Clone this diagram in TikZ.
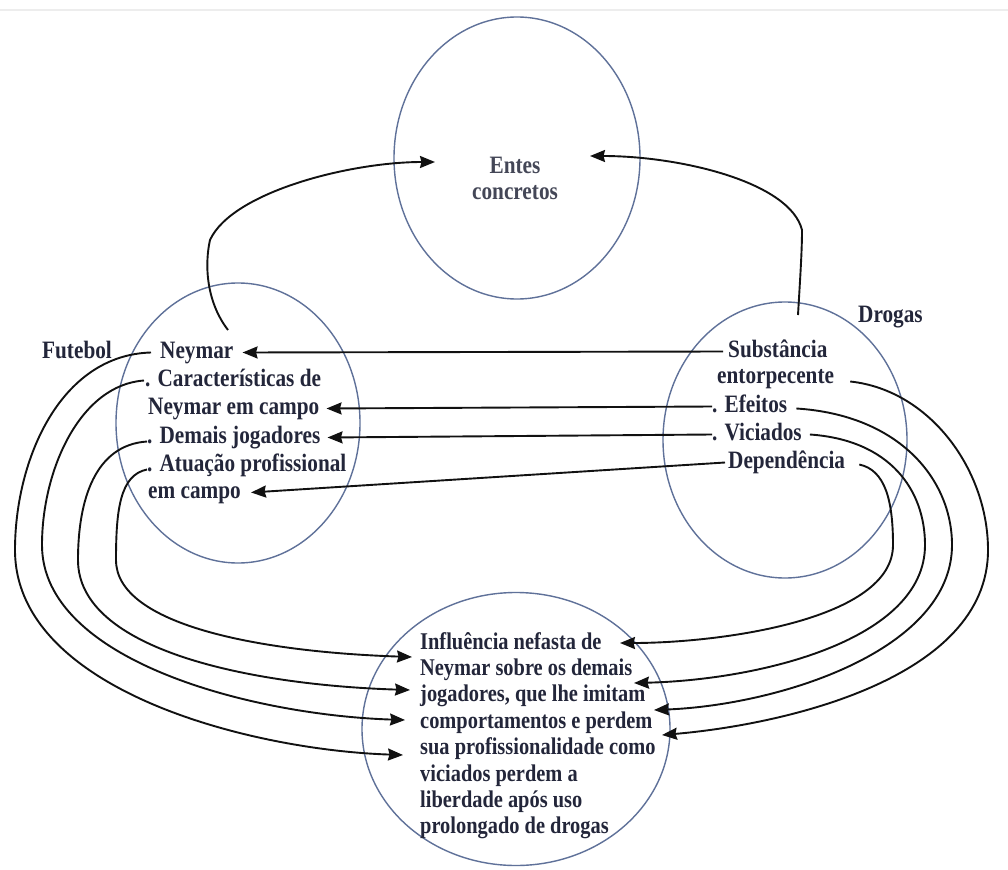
\documentclass[tikz,border=0pt]{standalone}
\usepackage{fontspec}
\newfontfamily\labfont[FakeStretch=0.85]{Liberation Serif}
\usetikzlibrary{shapes.geometric,arrows.meta}
\definecolor{inkc}{HTML}{23263A}
\definecolor{ringc}{HTML}{5F7199}
\definecolor{wirec}{HTML}{111111}

\begin{document}
\begin{tikzpicture}[x=1pt,y=-1pt,
  circ/.style={draw=ringc, line width=1.4pt, ellipse, inner sep=0pt},
  item/.style={anchor=base west, inner sep=0pt, text height=11pt, text depth=0pt,
    text=inkc, font=\labfont\bfseries\fontsize{25}{28}\selectfont},
  bitem/.style={item, font=\labfont\bfseries\fontsize{24}{26}\selectfont},
  arr/.style={draw=wirec, line width=1.9pt, -{Stealth[length=15pt,width=12pt,inset=1.5pt]}},
]
\useasboundingbox (0,0) rectangle (1008,869);
\fill[white] (0,0) rectangle (1008,869);
\draw[black!7, line width=1.5pt] (0,10) -- (1008,10);

% the four sets
\node[circ, minimum width=246pt, minimum height=282pt] (entes) at (517,158) {};
\node[circ, minimum width=244pt, minimum height=280pt] (fut) at (238,423) {};
\node[circ, minimum width=244pt, minimum height=276pt] (drog) at (785,440) {};
\node[circ, minimum width=308pt, minimum height=273pt] (infl) at (516,729) {};

% titles
\node[item, anchor=base, text=inkc!85] (e1) at (515,173) {Entes};
\node[item, anchor=base, text=inkc!85] (e2) at (515,199) {concretos};
\node[item] (futebol) at (42,358) {Futebol};
\node[item] (drogas) at (858,322) {Drogas};

% football side
\node[item] (ney) at (160,358) {Neymar};
\node[item] (car) at (145,386) {. Características de};
\node[item] (car2) at (148,414) {Neymar em campo};
\node[item] (dem) at (147,443) {. Demais jogadores};
\node[item] (atu) at (147,471) {. Atuação profissional};
\node[item] (atu2) at (148,498) {em campo};

% drugs side
\node[item] (sub) at (728,357) {Substância};
\node[item] (ent) at (717,383) {entorpecente};
\node[item] (efe) at (712,412) {. Efeitos};
\node[item] (vic) at (712,440) {. Viciados};
\node[item] (dep) at (728,468) {Dependência};

% conclusion
\foreach \t [count=\i] in {Influência nefasta de, Neymar sobre os demais,
  {jogadores, que lhe imitam}, comportamentos e perdem,
  sua profissionalidade como, viciados perdem a, liberdade após uso,
  prolongado de drogas}
  \node[bitem] (b\i) at (420,{649+26.4*(\i-1)}) {\t};

% connector ends
\coordinate (futtop) at (228,330);
\coordinate (drogtop) at (798,315);
\coordinate (entesL) at (435,162);
\coordinate (entesR) at (590,156);
\coordinate (inL1) at (412,657);
\coordinate (inL2) at (410,690);
\coordinate (inL3) at (405,720);
\coordinate (inL4) at (403,755);
\coordinate (inR1) at (620,643);
\coordinate (inR2) at (634,683);
\coordinate (inR3) at (654,710);
\coordinate (inR4) at (662,735);

% both sets lead to concrete entities
\draw[arr] (futtop) .. controls (205,300) and (205,262) .. (210,240)
  .. controls (232,192) and (350,162) .. (entesL);
\draw[arr] (drogtop) .. controls (800,280) and (802,252) .. (802,230)
  .. controls (790,182) and (680,156) .. (entesR);

% mapping drugs onto football
\draw[arr] ([xshift=-5pt]sub.west) -- ([xshift=9pt]ney.east);
\draw[arr] (efe.west) -- ([xshift=7pt]car2.east);
\draw[arr] (vic.west) -- ([xshift=7pt]dem.east);
\draw[arr] ([xshift=-3pt]dep.west) -- ([xshift=10pt]atu2.east);

% football items into the conclusion
\draw[arr] ([xshift=-9pt]ney.west) .. controls (60,355) and (15,460) .. (15,550)
  .. controls (15,690) and (250,750) .. (inL4);
\draw[arr] ([xshift=-1pt]car.west) .. controls (80,385) and (42,470) .. (42,545)
  .. controls (42,660) and (250,715) .. (inL3);
\draw[arr] ([yshift=-4pt]dem.west) .. controls (95,445) and (78,500) .. (78,560)
  .. controls (78,650) and (250,685) .. (inL2);
\draw[arr] ([yshift=-4pt]atu.west) .. controls (120,475) and (116,510) .. (116,560)
  .. controls (116,625) and (260,652) .. (inL1);

% drug items into the conclusion
\draw[arr] ([xshift=16pt,yshift=-4pt]ent.east) .. controls (930,390) and (988,470) .. (988,550)
  .. controls (988,680) and (780,725) .. (inR4);
\draw[arr] ([xshift=9pt,yshift=-2pt]efe.east) .. controls (900,415) and (952,480) .. (952,545)
  .. controls (952,650) and (780,705) .. (inR3);
\draw[arr] ([xshift=8pt]vic.east) .. controls (890,440) and (925,490) .. (925,545)
  .. controls (925,640) and (760,680) .. (inR2);
\draw[arr] ([xshift=14pt,yshift=-2pt]dep.east) .. controls (885,470) and (893,500) .. (893,545)
  .. controls (893,620) and (720,643) .. (inR1);
\end{tikzpicture}
\end{document}
